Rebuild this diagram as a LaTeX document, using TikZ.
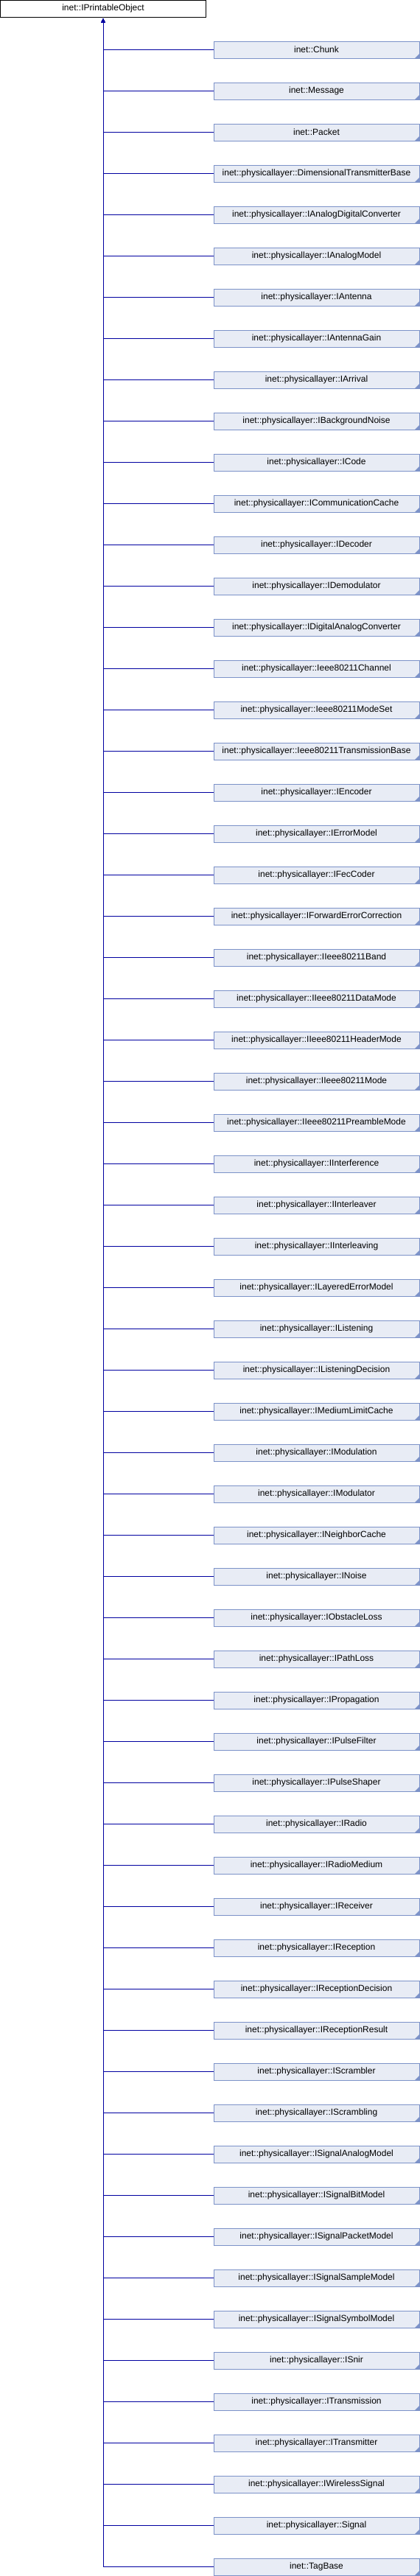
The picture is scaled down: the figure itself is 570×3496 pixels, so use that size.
\documentclass[tikz,border=0pt]{standalone}
\usepackage{fontspec}
\setmainfont{Liberation Sans}
\usetikzlibrary{arrows.meta}
\definecolor{edgeblue}{RGB}{0,0,160}
\definecolor{childfill}{RGB}{232,236,245}
\definecolor{childdraw}{RGB}{124,146,200}
\begin{document}
\begin{tikzpicture}[x=1pt,y=1pt,
  parentbox/.style={draw=black, fill=white, line width=1pt, minimum width=279pt, minimum height=23pt, inner sep=0pt, outer sep=0pt, font=\fontsize{12}{14}\selectfont},
  childbox/.style={draw=childdraw, fill=childfill, line width=1pt, minimum width=279pt, minimum height=23pt, inner sep=0pt, outer sep=0pt, font=\fontsize{12}{14}\selectfont},
  inherit/.style={draw=edgeblue, line width=1pt, -{Triangle[length=5pt,width=5pt]}},
  fold/.style={fill=childdraw}
]
\useasboundingbox (0,0) rectangle (570,-3496);
\node[parentbox] (base) at (140,-11.5) {inet::IPrintableObject};
\coordinate (tip) at (140,-25.5);
\foreach [count=\i] \t in {
inet::Chunk,
inet::Message,
inet::Packet,
inet::physicallayer::DimensionalTransmitterBase,
inet::physicallayer::IAnalogDigitalConverter,
inet::physicallayer::IAnalogModel,
inet::physicallayer::IAntenna,
inet::physicallayer::IAntennaGain,
inet::physicallayer::IArrival,
inet::physicallayer::IBackgroundNoise,
inet::physicallayer::ICode,
inet::physicallayer::ICommunicationCache,
inet::physicallayer::IDecoder,
inet::physicallayer::IDemodulator,
inet::physicallayer::IDigitalAnalogConverter,
inet::physicallayer::Ieee80211Channel,
inet::physicallayer::Ieee80211ModeSet,
inet::physicallayer::Ieee80211TransmissionBase,
inet::physicallayer::IEncoder,
inet::physicallayer::IErrorModel,
inet::physicallayer::IFecCoder,
inet::physicallayer::IForwardErrorCorrection,
inet::physicallayer::IIeee80211Band,
inet::physicallayer::IIeee80211DataMode,
inet::physicallayer::IIeee80211HeaderMode,
inet::physicallayer::IIeee80211Mode,
inet::physicallayer::IIeee80211PreambleMode,
inet::physicallayer::IInterference,
inet::physicallayer::IInterleaver,
inet::physicallayer::IInterleaving,
inet::physicallayer::ILayeredErrorModel,
inet::physicallayer::IListening,
inet::physicallayer::IListeningDecision,
inet::physicallayer::IMediumLimitCache,
inet::physicallayer::IModulation,
inet::physicallayer::IModulator,
inet::physicallayer::INeighborCache,
inet::physicallayer::INoise,
inet::physicallayer::IObstacleLoss,
inet::physicallayer::IPathLoss,
inet::physicallayer::IPropagation,
inet::physicallayer::IPulseFilter,
inet::physicallayer::IPulseShaper,
inet::physicallayer::IRadio,
inet::physicallayer::IRadioMedium,
inet::physicallayer::IReceiver,
inet::physicallayer::IReception,
inet::physicallayer::IReceptionDecision,
inet::physicallayer::IReceptionResult,
inet::physicallayer::IScrambler,
inet::physicallayer::IScrambling,
inet::physicallayer::ISignalAnalogModel,
inet::physicallayer::ISignalBitModel,
inet::physicallayer::ISignalPacketModel,
inet::physicallayer::ISignalSampleModel,
inet::physicallayer::ISignalSymbolModel,
inet::physicallayer::ISnir,
inet::physicallayer::ITransmission,
inet::physicallayer::ITransmitter,
inet::physicallayer::IWirelessSignal,
inet::physicallayer::Signal,
inet::TagBase} {
  \node[childbox] (c\i) at (429.5, {-67.5-56*(\i-1)}) {\t};
  \fill[fold] ([xshift=-6pt]c\i.south east) -- (c\i.south east) -- ([yshift=6pt]c\i.south east) -- cycle;
  \draw[inherit] (c\i.west) -| (tip);
}
\end{tikzpicture}
\end{document}
